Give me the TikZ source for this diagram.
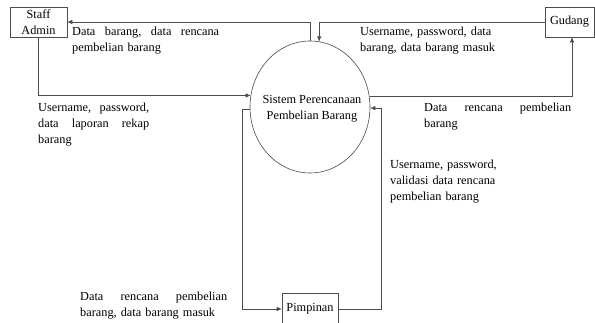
\documentclass[tikz,border=0pt]{standalone}
\usepackage{fontspec}
\setmainfont{Liberation Serif}
\usetikzlibrary{shapes.geometric,arrows.meta,calc}
\newcommand{\jline}[2]{\leavevmode\hbox to #1{#2}}
\begin{document}
\begin{tikzpicture}[x=1pt,y=1pt,
  every node/.style={font=\fontsize{12.3}{16}\selectfont},
  entity/.style={draw=black!70, line width=0.6pt, rectangle, inner sep=0pt, align=center},
  proc/.style={draw=black!70, line width=0.6pt, ellipse, inner sep=0pt, minimum width=120pt, minimum height=132pt},
  flow/.style={draw=black!70, line width=0.6pt, -{Latex[length=5pt,width=4.5pt]}},
  lbl/.style={anchor=base west, inner sep=0pt, align=left}]
\useasboundingbox (0,0) rectangle (595,323);
\fill[white] (0,0) rectangle (595,323);

\node[entity, minimum width=57pt, minimum height=30pt] (admin) at (38.5,301) {Staff\\Admin};
\node[entity, minimum width=49pt, minimum height=30pt] (gudang) at (569.5,301) {Gudang};
\node[entity, minimum width=56pt, minimum height=32pt] (pimp) at (310,14) {Pimpinan};
\node[proc] (sys) at (310,216) {};
\node[align=center, inner sep=0pt] (systext) at (312,214) {Sistem Perencanaan\\Pembelian Barang};

% flows
\draw[flow] (sys.north) |- (admin.east);
\draw[flow] (gudang.west) -| (sys.82);
\draw[flow] (admin.south) |- (sys.169.5);
\draw[flow] (sys.10.5) -| ($(gudang.south)+(2.5,0)$);
\draw[flow] (sys.182) -- ++(-7,0) |- (pimp.west);
\draw[flow] (pimp.east) -- ++(43,0) |- (sys.359);

% labels
\node[lbl, text width=147pt] (l1) at (72,287) {\jline{147pt}{Data\hfill barang,\hfill data\hfill rencana}\\pembelian barang};
\node[lbl, text width=111pt] (l2) at (38,211) {\jline{111pt}{Username,\hfill password,}\\\jline{111pt}{data\hfill laporan\hfill rekap}\\barang};
\node[lbl, text width=140pt] (l3) at (360,287) {Username, password, data\\barang, data barang masuk};
\node[lbl, text width=147pt] (l4) at (424,211) {\jline{147pt}{Data\hfill rencana\hfill pembelian}\\barang};
\node[lbl, text width=120pt] (l5) at (390,154) {Username, password,\\validasi data rencana\\pembelian barang};
\node[lbl, text width=147pt] (l6) at (80,22) {\jline{147pt}{Data\hfill rencana\hfill pembelian}\\barang, data barang masuk};
\end{tikzpicture}
\end{document}
